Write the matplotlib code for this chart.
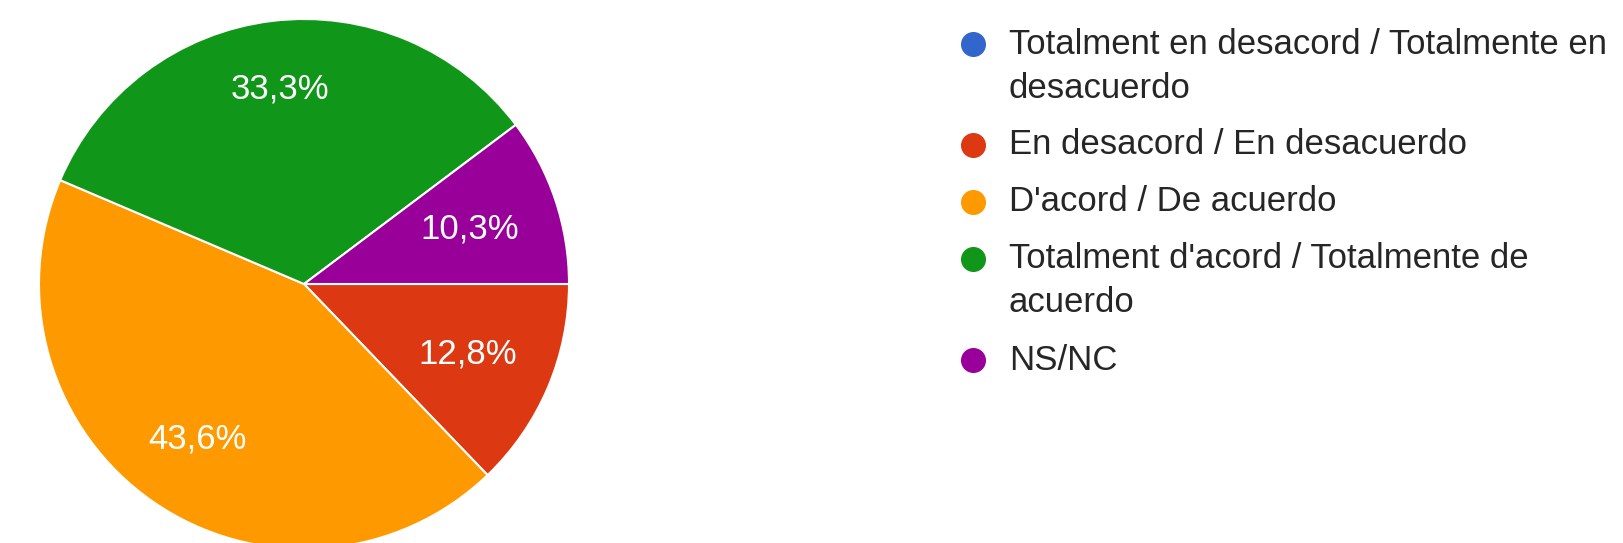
import matplotlib
matplotlib.use("Agg")
import matplotlib.pyplot as plt
import numpy as np

# Survey answers (counts out of 39 responses)
categories = [
    "Totalment en desacord / Totalmente en\ndesacuerdo",
    "En desacord / En desacuerdo",
    "D'acord / De acuerdo",
    "Totalment d'acord / Totalmente de\nacuerdo",
    "NS/NC",
]
counts = [0, 5, 17, 13, 4]
colors = ["#3366cc", "#dc3912", "#ff9900", "#109618", "#990099"]

plt.rcParams["font.family"] = ["Liberation Sans", "DejaVu Sans"]

W, H = 1624, 543
fig = plt.figure(figsize=(W / 100, H / 100), dpi=100)

# pie axes placed in pixel units (centre ~ (304, 284) from top, radius 265)
cx, cy, r = 304, 284, 265
lim = 1.02
side = 2 * r * lim
ax = fig.add_axes([(cx - side / 2) / W, (H - cy - side / 2) / H, side / W, side / H])

total = sum(counts)
wedges, _ = ax.pie(counts, colors=colors, startangle=0, counterclock=False,
                   wedgeprops=dict(edgecolor="white", linewidth=1.5))
ax.set_xlim(-lim, lim)
ax.set_ylim(-lim, lim)
ax.set_aspect("equal")
ax.axis("off")

# percentage labels inside slices
label_dist = [0.7, 0.67, 0.71, 0.74, 0.66]
for w, c, d in zip(wedges, counts, label_dist):
    if c == 0:
        continue
    ang = np.deg2rad((w.theta1 + w.theta2) / 2)
    txt = f"{100 * c / total:.1f}%".replace(".", ",")
    ax.text(d * np.cos(ang), d * np.sin(ang), txt, color="white",
            fontsize=25, ha="center", va="center")

# legend drawn by hand so the dot sits on the first line of wrapped labels
y = 44
for lab, col in zip(categories, colors):
    lines = lab.split("\n")
    fig.add_artist(plt.Line2D([973 / W], [1 - y / H], marker="o", markersize=17,
                              color=col, linestyle="none", transform=fig.transFigure))
    for i, ln in enumerate(lines):
        fig.text(1009 / W, 1 - (y + 44 * i) / H, ln, fontsize=25, color="#262626",
                 ha="left", va="center")
    y += 44 * (len(lines) - 1) + 57

fig.savefig("out.png", dpi=100)
